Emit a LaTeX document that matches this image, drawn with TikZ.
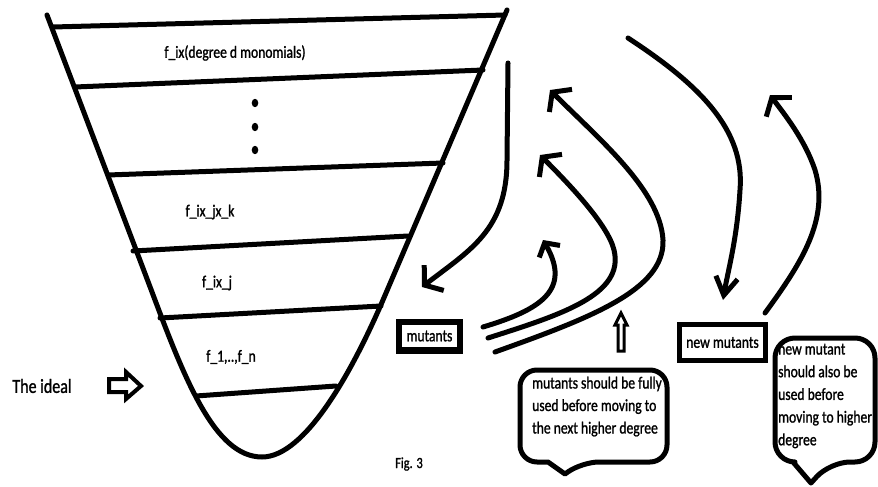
\documentclass[tikz,border=0pt]{standalone}
\usepackage{fontspec}
\setmainfont[FakeStretch=0.8,FakeBold=1.2]{Carlito}
\usetikzlibrary{arrows.meta}
\begin{document}
\begin{tikzpicture}[x=1pt,y=-1pt,
  thickline/.style={line width=5pt,line cap=round,line join=round},
  barb/.style={-{Straight Barb[length=12pt,width=32pt]}},
  lbl/.style={font=\fontsize{17}{20}\selectfont,inner sep=0pt},
  boxed/.style={draw,line width=5pt,inner sep=0pt,font=\fontsize{17}{20}\selectfont},
  bubble/.style={line width=5pt,line join=round},
  bline/.style={font=\fontsize{17}{20}\selectfont,inner sep=0pt,anchor=base west}]
\useasboundingbox (0,0) rectangle (878,487);

% funnel
\draw[thickline] (47,15) -- (152,292) .. controls (185,380) and (215,457) .. (262,457)
  .. controls (305,457) and (352,372) .. (383,300) -- (507,10);
\draw[thickline] (53,27) -- (505,15);
\draw[thickline] (75,87) -- (483,70);
\draw[thickline] (108,175) -- (443,163);
\draw[thickline] (133,251) -- (408,236);
\draw[thickline] (160,318) -- (381,306);
\draw[thickline] (196,396) -- (336,386);
\foreach \yy in {103,127,150} \fill (255,\yy) ellipse [x radius=3.3pt,y radius=4.2pt];

\node[lbl] (top) at (235,53) {f\_ix(degree d monomials)};
\node[lbl] (l3) at (210,212) {f\_ix\_jx\_k};
\node[lbl] (l4) at (217,283) {f\_ix\_j};
\node[lbl] (l5) at (231,357) {f\_1,..,f\_n};
\node[lbl,font=\fontsize{20}{24}\selectfont] (ideal) at (42,386) {The ideal};
\node[lbl,font=\fontsize{15.5}{18}\selectfont] (fig) at (409,464) {Fig. 3};

% block arrow next to "The ideal"
\draw[line width=4pt,line join=miter] (109,379) -- (126,379) -- (126,372) -- (141,386) -- (126,399) -- (126,392) -- (109,392) -- cycle;

% boxes
\node[boxed,line width=6.5pt,minimum width=61pt,minimum height=28.5pt] (mut) at (429.5,336) {mutants};
\node[boxed,minimum width=86pt,minimum height=36pt] (nmut) at (722.5,342.5) {new mutants};

% arrow into mutants
\coordinate (s1) at (508,63);
\coordinate (t1) at (422,287);
\draw[thickline,barb] (s1) -- (507,160) .. controls (507,230) and (470,250) .. (t1);

% three arrows from mutants
\coordinate (sa) at (483,327);
\coordinate (ta) at (543,240);
\coordinate (sb) at (488,338);
\coordinate (tb) at (540,155);
\coordinate (sc) at (495,352);
\coordinate (tc) at (550,90);
\draw[thickline,-{Straight Barb[length=10pt,width=24pt]}] (sa) .. controls (540,310) and (572,290) .. (ta);
\draw[thickline,barb] (sb) .. controls (560,315) and (625,295) .. (614,250) .. controls (608,225) and (570,185) .. (tb);
\draw[thickline,barb] (sc) .. controls (590,318) and (665,290) .. (663,240) .. controls (660,190) and (600,140) .. (tc);

% small up arrow
\draw[line width=3pt,line join=miter] (621,313) -- (627,325) -- (624,325) -- (624,351) -- (618,351) -- (618,325) -- (615,325) -- cycle;

% arrow down to new mutants
\coordinate (sd) at (628,38);
\coordinate (td) at (723,300);
\draw[thickline,-{Straight Barb[length=18pt,width=22pt]}] (sd) .. controls (700,85) and (745,130) .. (740,190) .. controls (737,240) and (728,270) .. (td);

% arrow up from new mutants
\coordinate (se) at (765,313);
\coordinate (te) at (770,95);
\draw[thickline,barb] (se) .. controls (800,265) and (830,220) .. (815,170) .. controls (805,140) and (785,115) .. (te);

% callout 1
\draw[bubble] (565,474) -- (548,462) [rounded corners=17pt] -- (520,462) -- (520,370) -- (667,370) -- (667,462) -- (582,462) [sharp corners] -- cycle;
\node[bline] (c1a) at (532,388.5) {mutants should be fully};
\node[bline] (c1b) at (532,411) {used before moving to};
\node[bline] (c1c) at (532,433.5) {the next higher degree};

% callout 2
\draw[bubble] (811,483) -- (793,462) [rounded corners=20pt] -- (775,462) -- (775,338) -- (875,338) -- (875,462) -- (830,462) [sharp corners] -- cycle;
\node[bline] (c2a) at (778,354.5) {new mutant};
\node[bline] (c2b) at (778,377.2) {should also be};
\node[bline] (c2c) at (778,399.9) {used before};
\node[bline] (c2d) at (778,422.6) {moving to higher};
\node[bline] (c2e) at (778,445.3) {degree};
\end{tikzpicture}
\end{document}
